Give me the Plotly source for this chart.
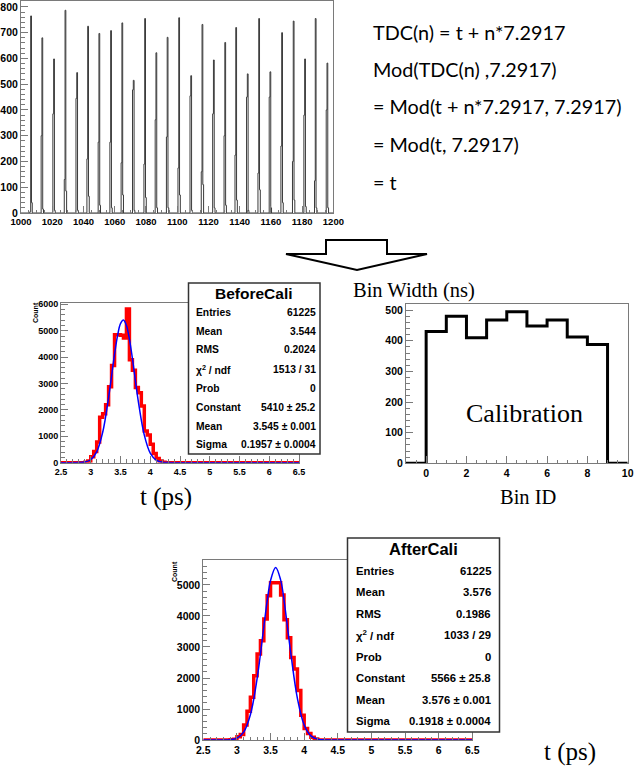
import plotly.graph_objects as go

W, H = 635, 776

# ---------------- data ----------------
# top: raw TDC histogram (peaks every ~7.29)
tdc_peak_pos = [1006.2, 1013.4, 1020.9, 1028.2, 1035.7, 1042.7, 1049.9, 1057.4, 1064.6,
                1071.9, 1079.2, 1086.4, 1093.6, 1101.0, 1108.7, 1115.9, 1123.2, 1130.5,
                1137.5, 1144.9, 1152.2, 1159.4, 1166.9, 1174.3, 1181.6, 1188.4, 1195.9]
tdc_peak_counts = [765, 680, 598, 787, 545, 725, 697, 708, 738, 515, 755, 622, 682, 758,
                   533, 732, 594, 662, 720, 540, 755, 548, 700, 745, 598, 755, 582]
tdc_shoulder_counts = [5, 300, 385, 130, 445, 210, 275, 275, 195, 478, 190, 362, 295, 175,
                       455, 160, 385, 300, 225, 450, 155, 450, 260, 200, 380, 125, 400]
tdc_tail_counts = [40, 15, 10, 85, 10, 65, 30, 20, 70, 10, 60, 20, 20, 70,
                   10, 110, 20, 30, 50, 10, 90, 20, 40, 50, 25, 20, 20]
TDC_BIN_W = 0.5

# BeforeCali histogram (lower bin edges, counts)
before_bin_lo = [2.9, 2.95, 3.0, 3.05, 3.1, 3.15, 3.2, 3.25, 3.3, 3.35, 3.4, 3.45, 3.5, 3.55,
                 3.6, 3.65, 3.7, 3.75, 3.8, 3.85, 3.9, 3.95, 4.0, 4.05, 4.1, 4.15, 4.2]
before_counts = [20, 60, 230, 420, 780, 1720, 1850, 2200, 2880, 3680, 4850, 4850, 4830, 4720,
                 5820, 3900, 3500, 2850, 2650, 2150, 1200, 1050, 700, 350, 160, 60, 20]
before_fit_t = [2.5, 2.8, 2.9, 3.0, 3.1, 3.2, 3.3, 3.4, 3.45, 3.5, 3.55, 3.6, 3.65, 3.7,
                3.8, 3.9, 4.0, 4.1, 4.2, 4.3, 4.5, 6.5]
before_fit_y = [0, 3, 24, 112, 408, 1144, 2470, 4112, 4808, 5269, 5408, 5200, 4684, 3954,
                2315, 1044, 363, 97, 20, 3, 0, 0]

# AfterCali histogram
after_bin_lo = [2.9, 2.95, 3.0, 3.05, 3.1, 3.15, 3.2, 3.25, 3.3, 3.35, 3.4, 3.45, 3.5, 3.55,
                3.6, 3.65, 3.7, 3.75, 3.8, 3.85, 3.9, 3.95, 4.0, 4.05, 4.1, 4.15]
after_counts = [10, 25, 106, 180, 480, 925, 1380, 2075, 2770, 3200, 3900, 4650, 5075, 5075,
                5075, 4680, 3880, 3300, 2660, 2290, 1600, 800, 370, 210, 85, 30]
after_fit_t = [2.5, 2.8, 2.9, 3.0, 3.1, 3.2, 3.3, 3.4, 3.45, 3.5, 3.576, 3.65, 3.7, 3.8,
               3.9, 4.0, 4.1, 4.2, 4.3, 4.5, 6.5]
after_fit_y = [0, 1, 11, 61, 255, 815, 1977, 3653, 4485, 5146, 5566, 5166, 4516, 2814,
               1336, 483, 133, 28, 4, 0, 0]

# Calibration: bin width per bin ID
bin_id_lo = [-1, 0, 1, 2, 3, 4, 5, 6, 7, 8, 9]
bin_width_ns = [0, 430, 480, 410, 468, 495, 448, 468, 412, 388, 0]

# stats boxes
before_stats = [("Entries", "61225"), ("Mean", "3.544"), ("RMS", "0.2024"),
                ("χ<sup>2</sup> / ndf", "1513 / 31"), ("Prob", "0"),
                ("Constant", "5410 ± 25.2"), ("Mean", "3.545 ± 0.001"),
                ("Sigma", "0.1957 ± 0.0004")]
after_stats = [("Entries", "61225"), ("Mean", "3.576"), ("RMS", "0.1986"),
               ("χ<sup>2</sup> / ndf", "1033 / 29"), ("Prob", "0"),
               ("Constant", "5566 ± 25.8"), ("Mean", "3.576 ± 0.001"),
               ("Sigma", "0.1918 ± 0.0004")]

formula_lines = ["TDC(n) = t + n*7.2917", "Mod(TDC(n) ,7.2917)",
                 "= Mod(t + n*7.2917, 7.2917)", "= Mod(t, 7.2917)", "= t"]

# ---------------- helpers ----------------
def fx(x):
    return x / W

def fy(y):
    return 1 - y / H

SANS = "Liberation Sans"
SERIF = "Liberation Serif"
FRAME = "#7a7a7a"

fig = go.Figure()

# top histogram outline
tx, ty = [1000], [0]
for p, h, l, r in zip(tdc_peak_pos, tdc_peak_counts, tdc_shoulder_counts, tdc_tail_counts):
    tx += [p - TDC_BIN_W, p, p + TDC_BIN_W, p + 2 * TDC_BIN_W]
    ty += [l, h, r, 0]
tx.append(1200)
ty.append(0)
fig.add_trace(go.Scatter(x=tx, y=ty, mode="lines", line=dict(color="#3a3a3a", width=1, shape="hv"),
                         xaxis="x", yaxis="y", showlegend=False, hoverinfo="skip"))

def step_trace(lo, counts, width, xstart, xend, color, lw, xa, ya):
    xs = [xstart] + list(lo) + [xend]
    ys = [0] + list(counts) + [0]
    xs.insert(len(lo) + 1, lo[-1] + width)
    ys.insert(len(lo) + 1, 0)
    return go.Scatter(x=xs, y=ys, mode="lines", line=dict(color=color, width=lw, shape="hv"),
                      xaxis=xa, yaxis=ya, showlegend=False, hoverinfo="skip")

fig.add_trace(step_trace(before_bin_lo, before_counts, 0.05, 2.5, 6.5, "#ff0000", 3.5, "x2", "y2"))
fig.add_trace(go.Scatter(x=before_fit_t, y=before_fit_y, mode="lines",
                         line=dict(color="#0000ff", width=1.5, shape="spline", smoothing=1.0),
                         xaxis="x2", yaxis="y2", showlegend=False, hoverinfo="skip"))

fig.add_trace(go.Scatter(x=bin_id_lo + [10], y=bin_width_ns + [0], mode="lines",
                         line=dict(color="#000000", width=3, shape="hv"),
                         xaxis="x3", yaxis="y3", showlegend=False, hoverinfo="skip"))

fig.add_trace(step_trace(after_bin_lo, after_counts, 0.05, 2.5, 6.5, "#ff0000", 3.5, "x4", "y4"))
fig.add_trace(go.Scatter(x=after_fit_t, y=after_fit_y, mode="lines",
                         line=dict(color="#0000ff", width=1.5, shape="spline", smoothing=1.0),
                         xaxis="x4", yaxis="y4", showlegend=False, hoverinfo="skip"))

def ax(domain, rng, dtick, tick0, minor_dtick, anchor, fsize, fmt=None):
    d = dict(domain=domain, range=rng, dtick=dtick, tick0=tick0, anchor=anchor,
             automargin=False,
             ticks="inside", ticklen=7, tickcolor=FRAME, tickwidth=1,
             minor=dict(ticks="inside", ticklen=3.5, dtick=minor_dtick, tickcolor=FRAME),
             showline=True, linecolor=FRAME, linewidth=1, mirror=True,
             showgrid=False, zeroline=False,
             tickfont=dict(family=SANS, size=fsize, color="#000", weight="bold"))
    if fmt:
        d["tickformat"] = fmt
    return d

layout = dict(
    width=W, height=H, margin=dict(l=0, r=0, t=0, b=0, autoexpand=False),
    paper_bgcolor="white", plot_bgcolor="white", showlegend=False,
    xaxis=ax([fx(21), fx(333.4)], [1000, 1200], 20, 1000, 5, "y", 9.5, "d"),
    yaxis=ax([fy(213), fy(1)], [0, 823], 100, 0, 20, "x", 10.5, "d"),
    xaxis2=ax([fx(61), fx(299)], [2.5, 6.5], 0.5, 2.5, 0.1, "y2", 9),
    yaxis2=ax([fy(462.7), fy(303)], [0, 6050], 1000, 0, 200, "x2", 9, "d"),
    xaxis3=ax([fx(406), fx(627.7)], [-1, 10], 2, 0, 0.5, "y3", 10.5, "d"),
    yaxis3=ax([fy(463.3), fy(304)], [0, 520], 100, 0, 20, "x3", 10.5, "d"),
    xaxis4=ax([fx(203.3), fx(472.3)], [2.5, 6.5], 0.5, 2.5, 0.1, "y4", 10.5),
    yaxis4=ax([fy(740), fy(560)], [0, 5806], 1000, 0, 200, "x4", 10.5, "d"),
)
fig.update_layout(**layout)

shapes = []
annotations = []

def text(x, y, s, size, family=SANS, bold=False, xanchor="center", angle=0):
    annotations.append(dict(x=fx(x), y=fy(y), xref="paper", yref="paper", text=s,
                            showarrow=False, xanchor=xanchor, yanchor="middle",
                            textangle=angle, borderpad=0,
                            font=dict(family=family, size=size, color="#000",
                                      weight="bold" if bold else "normal")))

# formulas
for i, line in enumerate(formula_lines):
    text(372, [32, 69, 106, 144, 182][i], line, 19.8, family="Lato", xanchor="left")

# arrow outline
pts = [(326, 254), (326, 240), (387, 240), (387, 254), (427, 254), (357, 270), (286, 254)]
path = "M " + " L ".join(f"{fx(a):.5f},{fy(b):.5f}" for a, b in pts) + " Z"
shapes.append(dict(type="path", path=path, xref="paper", yref="paper",
                   line=dict(color="#000", width=2), fillcolor="white"))

# stats boxes
def stats_box(x0, x1, y0, y1, title, tsize, title_y, rows, row_y, fsize, lx, rx):
    shapes.append(dict(type="rect", xref="paper", yref="paper", x0=fx(x0), x1=fx(x1),
                       y0=fy(y1), y1=fy(y0), line=dict(color="#333", width=1.5),
                       fillcolor="white"))
    text((x0 + x1) / 2, title_y, title, tsize, bold=True)
    for (lab, val), yy in zip(rows, row_y):
        text(lx, yy, lab, fsize, bold=True, xanchor="left")
        text(rx, yy, val, fsize, bold=True, xanchor="right")

stats_box(188.5, 320, 283, 454, "BeforeCali", 15.5, 293, before_stats,
          [312, 331, 350, 369, 388, 407, 426, 444], 10.3, 195, 317)
stats_box(347.5, 499.5, 538, 732, "AfterCali", 16.5, 549, after_stats,
          [571, 592, 614, 635, 657, 678, 700, 721], 11.3, 355, 492)

# axis / caption texts
text(35, 313, "Count", 7, bold=True, angle=-90)
text(174, 572, "Count", 7, bold=True, angle=-90)
text(166, 497, "t (ps)", 25, family=SERIF)
text(570, 752, "t (ps)", 25, family=SERIF)
text(352, 290, "Bin Width (ns)", 20.5, family=SERIF, xanchor="left")
text(524, 413, "Calibration", 26, family=SERIF)
text(528, 497, "Bin ID", 20.5, family=SERIF)

fig.update_layout(shapes=shapes, annotations=annotations)
fig.write_html("out.html", config={"displayModeBar": False},
               post_script="document.body.style.margin='0';document.body.style.overflow='hidden';")
